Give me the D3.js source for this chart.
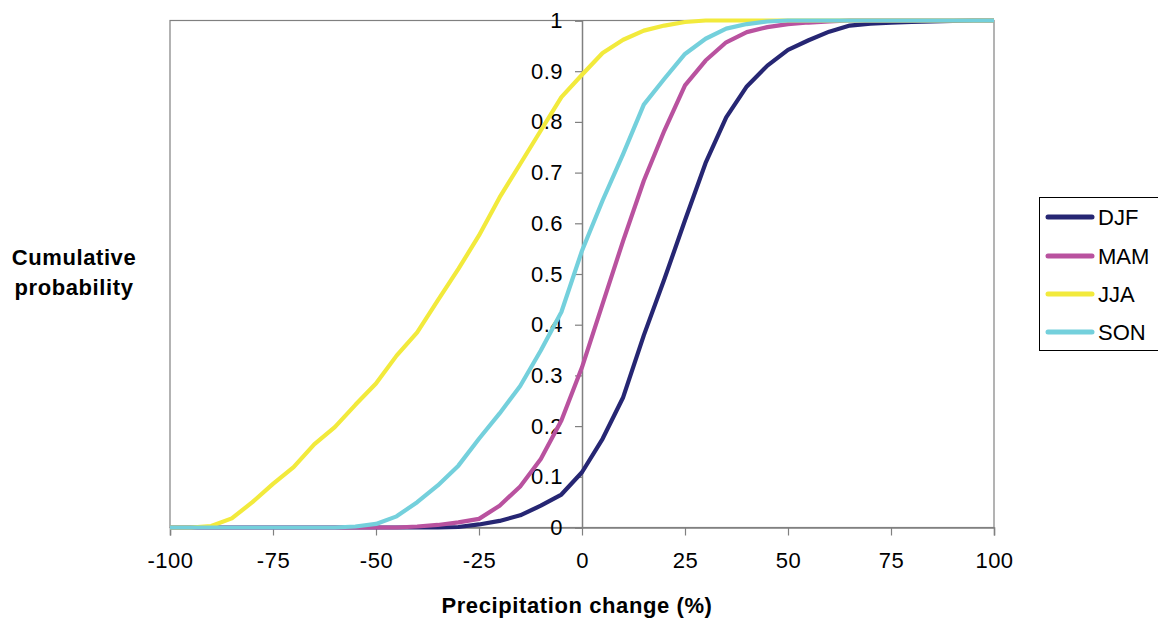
<!DOCTYPE html>
<html><head><meta charset="utf-8">
<script src="https://cdn.jsdelivr.net/npm/d3@7"></script>
<style>body{margin:0;background:#fff;}svg{display:block;font-family:"Liberation Sans",Arial,sans-serif;}</style>
</head><body><svg id="c" width="1158" height="619"></svg>
<script>
const xValues = [-100,-95,-90,-85,-80,-75,-70,-65,-60,-55,-50,-45,-40,-35,-30,-25,-20,-15,-10,-5,0,5,10,15,20,25,30,35,40,45,50,55,60,65,70,75,80,85,90,95,100];
const seriesNames = ["DJF","MAM","JJA","SON"];
const seriesColors = ["#262673","#b9529f","#f2ea3c","#74d0dc"];
const DJF = [0,0,0,0,0,0,0,0,0,0,0,0,0,0,0.001,0.006,0.013,0.024,0.043,0.065,0.109,0.175,0.257,0.379,0.49,0.606,0.719,0.809,0.87,0.911,0.942,0.961,0.978,0.99,0.994,0.996,0.997,0.998,0.999,1,1];
const MAM = [0,0,0,0,0,0,0,0,0,0,0,0,0.002,0.005,0.01,0.017,0.043,0.081,0.135,0.211,0.316,0.441,0.566,0.684,0.783,0.872,0.921,0.957,0.977,0.987,0.993,0.996,0.998,1,1,1,1,1,1,1,1];
const JJA = [0,0,0.003,0.018,0.05,0.086,0.119,0.164,0.198,0.242,0.284,0.339,0.385,0.448,0.51,0.576,0.651,0.717,0.783,0.849,0.893,0.936,0.962,0.98,0.99,0.997,1,1,1,1,1,1,1,1,1,1,1,1,1,1,1];
const SON = [0,0,0,0,0,0,0,0,0,0.002,0.007,0.022,0.05,0.083,0.122,0.175,0.225,0.279,0.349,0.425,0.546,0.645,0.737,0.834,0.885,0.934,0.964,0.984,0.993,0.998,1,1,1,1,1,1,1,1,1,1,1];
const xTicks = [-100,-75,-50,-25,0,25,50,75,100];
const xTickLabels = ["-100","-75","-50","-25","0","25","50","75","100"];
const yTicks = [0,0.1,0.2,0.3,0.4,0.5,0.6,0.7,0.8,0.9,1];
const yTickLabels = ["0","0.1","0.2","0.3","0.4","0.5","0.6","0.7","0.8","0.9","1"];
const allSeries = [DJF, MAM, JJA, SON];

const svg = d3.select("#c");
const L = 170, R = 994, T = 20.5, B = 527.5;
const x = d3.scaleLinear().domain([-100,100]).range([L,R]);
const y = d3.scaleLinear().domain([0,1]).range([B,T]);
const gray = "#808080";
const FS = 22;

// frame
svg.append("rect").attr("x",L).attr("y",T).attr("width",R-L).attr("height",B-T)
  .attr("fill","none").attr("stroke",gray).attr("stroke-width",1.2);

// x axis
const xa = svg.append("g").attr("transform",`translate(0,${B})`)
  .call(d3.axisBottom(x).tickValues(xTicks).tickSize(8).tickPadding(17).tickFormat((d,i)=>xTickLabels[i]));
xa.select(".domain").attr("stroke",gray).attr("stroke-width",1.5);
xa.selectAll(".tick line").attr("stroke",gray).attr("stroke-width",1.2);
xa.selectAll("text").attr("font-size",FS).attr("fill","#000").attr("font-family","Liberation Sans, Arial, sans-serif").attr("letter-spacing","0.5px");

// y axis at x=0
const ya = svg.append("g").attr("transform",`translate(${x(0)},0)`)
  .call(d3.axisLeft(y).tickValues(yTicks).tickSize(7).tickPadding(12).tickFormat((d,i)=>yTickLabels[i]));
ya.select(".domain").attr("stroke",gray).attr("stroke-width",1.5);
ya.selectAll(".tick line").attr("stroke",gray).attr("stroke-width",1.2);
ya.selectAll("text").attr("font-size",FS).attr("fill","#000").attr("font-family","Liberation Sans, Arial, sans-serif").attr("letter-spacing","0.5px");

// lines
const line = d3.line().x((d,i)=>x(xValues[i])).y(d=>y(d));
allSeries.forEach((s,k)=>{
  svg.append("path").datum(s).attr("d",line).attr("fill","none")
    .attr("stroke",seriesColors[k]).attr("stroke-width",4.2).attr("stroke-linejoin","round");
});

// axis titles
svg.append("text").attr("x",577).attr("y",613).attr("text-anchor","middle")
  .attr("font-size",FS).attr("font-weight","bold").attr("letter-spacing","0.6px").text("Precipitation change (%)");
svg.append("text").attr("x",74).attr("y",265).attr("text-anchor","middle")
  .attr("font-size",FS).attr("font-weight","bold").attr("letter-spacing","0.6px").text("Cumulative");
svg.append("text").attr("x",74).attr("y",295).attr("text-anchor","middle")
  .attr("font-size",FS).attr("font-weight","bold").attr("letter-spacing","0.6px").text("probability");

// legend
const lg = svg.append("g");
lg.append("rect").attr("x",1039.5).attr("y",197.5).attr("width",130).attr("height",153)
  .attr("fill","#fff").attr("stroke","#000").attr("stroke-width",1);
const ly = [217,256,294,332];
seriesNames.forEach((n,k)=>{
  lg.append("line").attr("x1",1048).attr("x2",1092).attr("y1",ly[k]).attr("y2",ly[k])
    .attr("stroke",seriesColors[k]).attr("stroke-width",5).attr("stroke-linecap","round");
  lg.append("text").attr("x",1098).attr("y",ly[k]+8).attr("font-size",FS).text(n);
});
</script></body></html>
